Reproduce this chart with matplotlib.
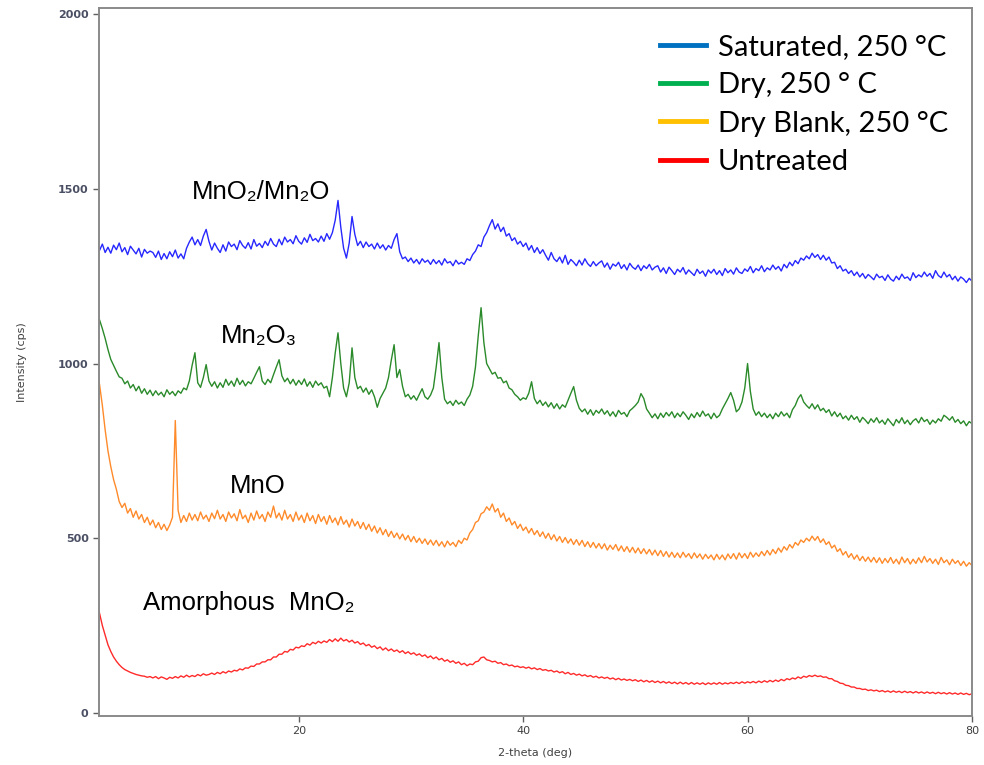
import numpy as np
import matplotlib
matplotlib.use("Agg")
import matplotlib.pyplot as plt
from matplotlib.lines import Line2D

# scans start at 2 deg 2-theta, 0.25 deg per point
start = 2.0
step = 0.25

saturated = [
    1338, 1324, 1342, 1318, 1333, 1316, 1339, 1326, 1345, 1320, 1332, 1312, 1336, 1325, 1314, 1330, 1305, 1327, 1316, 1322,
    1318, 1304, 1322, 1298, 1315, 1300, 1320, 1306, 1325, 1302, 1314, 1300, 1330, 1348, 1362, 1340, 1355, 1338, 1365, 1384,
    1350, 1325, 1345, 1330, 1318, 1340, 1322, 1348, 1335, 1342, 1326, 1352, 1338, 1330, 1346, 1328, 1355, 1336, 1344, 1332,
    1350, 1338, 1358, 1342, 1335, 1356, 1340, 1362, 1348, 1355, 1343, 1366, 1350, 1342, 1360, 1347, 1370, 1352, 1358, 1348,
    1365, 1350, 1372, 1356, 1375, 1410, 1467, 1390, 1330, 1302, 1345, 1421, 1370, 1338, 1350, 1332, 1348, 1335, 1342, 1328,
    1345, 1330, 1340, 1325, 1338, 1330, 1355, 1372, 1320, 1300, 1305, 1292, 1302, 1288, 1298, 1285, 1300, 1290, 1296, 1284,
    1298, 1286, 1295, 1282, 1300, 1288, 1292, 1280, 1296, 1285, 1290, 1284, 1300, 1295, 1312, 1322, 1340, 1335, 1362, 1375,
    1395, 1412, 1385, 1400, 1378, 1390, 1365, 1372, 1352, 1360, 1342, 1350, 1335, 1345, 1325, 1338, 1318, 1332, 1315, 1326,
    1310, 1296, 1318, 1300, 1292, 1305, 1288, 1310, 1284, 1298, 1290, 1280, 1296, 1282, 1300, 1286, 1278, 1292, 1280, 1288,
    1294, 1276, 1288, 1270, 1285, 1279, 1290, 1272, 1283, 1268, 1287, 1276, 1270, 1282, 1266, 1280, 1272, 1284, 1268, 1276,
    1280, 1262, 1274, 1258, 1276, 1266, 1255, 1270, 1262, 1275, 1256, 1268, 1260, 1252, 1270, 1258, 1265, 1250, 1268, 1259,
    1270, 1255, 1266, 1252, 1272, 1260, 1268, 1256, 1274, 1262, 1258, 1271, 1264, 1278, 1260, 1272, 1266, 1280, 1263, 1274,
    1268, 1282, 1270, 1278, 1265, 1284, 1274, 1290, 1280, 1295, 1286, 1302, 1296, 1308, 1300, 1316, 1304, 1312, 1298, 1310,
    1296, 1305, 1288, 1290, 1272, 1280, 1265, 1270, 1258, 1266, 1252, 1262, 1248, 1258, 1244, 1255, 1248, 1240, 1256, 1246,
    1250, 1238, 1254, 1242, 1236, 1250, 1240, 1256, 1244, 1248, 1238, 1260, 1246, 1254, 1248, 1262, 1250, 1258, 1244, 1266,
    1252, 1246, 1262, 1248, 1255, 1240, 1250, 1236, 1248, 1242, 1232, 1244, 1236,
]

dry = [
    1140, 1125, 1100, 1072, 1040, 1012, 995, 978, 962, 958, 942, 950, 930, 940, 922, 935, 915, 928, 912, 924,
    908, 922, 910, 918, 905, 925, 912, 920, 908, 922, 915, 930, 925, 950, 995, 1031, 945, 932, 960, 997,
    950, 935, 948, 930, 945, 932, 955, 938, 950, 935, 958, 940, 952, 936, 948, 942, 958, 975, 991, 950,
    940, 955, 945, 968, 990, 1011, 965, 948, 958, 942, 955, 938, 952, 940, 956, 935, 948, 932, 950, 938,
    945, 930, 935, 905, 960, 1030, 1088, 1000, 930, 905, 945, 1045, 960, 928, 935, 918, 930, 912, 925, 905,
    875, 900, 915, 930, 960, 1010, 1054, 960, 983, 935, 905, 912, 898, 908, 895, 912, 928, 905, 898, 910,
    930, 990, 1060, 960, 898, 885, 892, 880, 895, 884, 890, 880, 898, 910, 935, 990, 1080, 1160, 1060, 1000,
    985, 970, 975, 958, 960, 945, 950, 930, 925, 912, 905, 895, 902, 898, 915, 948, 900, 885, 895, 880,
    890, 876, 888, 872, 885, 870, 882, 875, 895, 915, 934, 895, 872, 862, 870, 855, 868, 852, 866, 858,
    870, 855, 865, 850, 862, 848, 866, 855, 860, 848, 865, 872, 880, 890, 914, 900, 870, 858, 845, 856,
    842, 858, 846, 860, 850, 862, 845, 858, 848, 862, 852, 840, 856, 845, 860, 848, 864, 850, 856, 842,
    858, 845, 852, 870, 885, 900, 917, 895, 862, 870, 890, 930, 1000, 920, 870, 852, 862, 848, 858, 845,
    855, 842, 858, 848, 862, 850, 858, 845, 868, 880, 900, 911, 890, 880, 872, 885, 870, 882, 865, 872,
    860, 868, 850, 862, 848, 858, 842, 850, 838, 852, 840, 848, 832, 846, 838, 828, 842, 832, 845, 830,
    838, 826, 842, 832, 822, 840, 830, 845, 828, 838, 825, 836, 842, 830, 846, 834, 840, 826, 838, 830,
    842, 835, 852, 846, 838, 848, 832, 840, 828, 836, 822, 834, 828,
]

dry_blank = [
    980, 940, 880, 810, 750, 705, 668, 640, 605, 588, 600, 572, 585, 560, 578, 555, 568, 545, 560, 538,
    552, 530, 545, 525, 540, 522, 538, 560, 837, 580, 545, 565, 548, 572, 552, 568, 550, 575, 555, 566,
    548, 572, 556, 580, 555, 568, 548, 575, 558, 570, 550, 582, 556, 566, 545, 572, 552, 578, 556, 568,
    548, 575, 560, 592, 558, 572, 552, 580, 555, 568, 548, 575, 552, 566, 545, 572, 550, 565, 542, 568,
    548, 562, 540, 565, 545, 558, 538, 562, 540, 552, 532, 555, 535, 548, 528, 545, 525, 540, 520, 535,
    515, 530, 510, 525, 505, 520, 502, 515, 498, 512, 495, 508, 490, 505, 488, 500, 485, 498, 482, 495,
    480, 494, 478, 490, 475, 492, 480, 488, 476, 494, 485, 500, 495, 515, 525, 545, 550, 570, 575, 590,
    580, 598, 575, 585, 560, 572, 548, 558, 538, 548, 528, 540, 522, 532, 515, 528, 510, 522, 505, 518,
    500, 514, 496, 510, 492, 505, 488, 502, 486, 498, 482, 496, 480, 494, 476, 490, 474, 488, 472, 485,
    470, 484, 466, 480, 468, 482, 464, 478, 462, 476, 460, 474, 458, 472, 456, 470, 455, 468, 452, 466,
    450, 465, 448, 462, 446, 460, 445, 458, 444, 460, 446, 456, 442, 458, 444, 455, 440, 454, 442, 452,
    438, 454, 440, 452, 438, 455, 442, 456, 440, 458, 444, 456, 442, 460, 446, 458, 448, 462, 450, 465,
    452, 468, 456, 472, 460, 476, 466, 482, 472, 488, 480, 495, 488, 500, 492, 506, 494, 505, 488, 498,
    482, 490, 472, 480, 462, 470, 452, 462, 445, 456, 440, 452, 436, 448, 434, 446, 432, 445, 430, 444,
    428, 442, 430, 445, 428, 440, 426, 446, 430, 442, 426, 440, 428, 444, 430, 448, 432, 442, 428, 440,
    425, 445, 430, 438, 424, 440, 428, 436, 422, 434, 420, 430, 422,
]

untreated = [
    310, 285, 250, 222, 195, 176, 160, 148, 138, 130, 124, 120, 116, 113, 110, 108, 106, 105, 102, 104,
    100, 104, 98, 103, 100, 96, 102, 99, 104, 100, 106, 102, 108, 103, 107, 104, 110, 106, 112, 108,
    110, 114, 110, 116, 112, 118, 114, 120, 117, 122, 120, 126, 123, 129, 128, 134, 133, 140, 140, 146,
    146, 152, 152, 160, 160, 168, 168, 176, 174, 182, 180, 188, 186, 192, 190, 198, 194, 202, 198, 205,
    200, 206, 202, 210, 204, 212, 205, 214, 206, 210, 203, 208, 200, 204, 196, 200, 192, 196, 188, 192,
    184, 189, 180, 186, 178, 183, 176, 180, 173, 178, 170, 175, 168, 172, 165, 169, 162, 166, 158, 163,
    155, 160, 152, 156, 148, 152, 145, 149, 142, 146, 138, 142, 135, 140, 138, 146, 148, 158, 160, 152,
    150, 146, 148, 142, 144, 138, 140, 135, 137, 132, 134, 130, 132, 128, 131, 126, 129, 124, 127, 122,
    124, 120, 122, 117, 120, 115, 118, 112, 116, 110, 113, 108, 111, 106, 109, 104, 107, 102, 105, 100,
    103, 99, 102, 97, 100, 95, 99, 94, 97, 93, 96, 92, 95, 90, 94, 89, 93, 88, 92, 87,
    91, 86, 90, 85, 89, 84, 88, 83, 88, 83, 87, 82, 87, 82, 86, 82, 86, 81, 86, 82,
    86, 82, 87, 82, 86, 83, 87, 84, 88, 84, 89, 85, 89, 86, 90, 86, 91, 87, 92, 88,
    93, 89, 94, 90, 96, 92, 98, 95, 100, 97, 103, 99, 105, 102, 107, 104, 108, 104, 106, 102,
    103, 98, 98, 92, 90, 85, 84, 79, 78, 74, 74, 70, 70, 67, 68, 64, 66, 63, 65, 61,
    64, 60, 63, 59, 63, 59, 62, 58, 62, 58, 61, 57, 61, 57, 60, 56, 60, 56, 59, 55,
    59, 55, 58, 54, 58, 54, 57, 53, 57, 53, 56, 52, 55,
]

line_colors = ["#2727ff", "#2a8a2a", "#ff8a2a", "#ff2a2a"]
legend_labels = ["Saturated, 250 \u00b0C", "Dry, 250 \u00b0 C",
                 "Dry Blank, 250 \u00b0C", "Untreated"]
legend_colors = ["#0070c0", "#00b050", "#ffc000", "#ff0000"]

fig = plt.figure(figsize=(9.84, 7.65), dpi=100)
ax = fig.add_axes([0.1006, 0.064, 0.8872, 0.9256])

for vals, col in zip([saturated, dry, dry_blank, untreated], line_colors):
    x = start + step * np.arange(len(vals))
    ax.plot(x, vals, color=col, lw=1.0)

ax.set_xlim(2.2, 80)
ax.set_ylim(-9, 2018)
ax.set_xticks([20, 40, 60, 80])
ax.set_yticks([0, 500, 1000, 1500, 2000])
for s in ax.spines.values():
    s.set_color("#8a8a8a")
    s.set_linewidth(1.4)
ax.tick_params(direction="out", length=4, width=1, color="#606060",
               labelsize=8, labelcolor="#404040")
for lab in ax.get_yticklabels():
    lab.set_color("#4a4f63")
    lab.set_fontweight("bold")
ax.set_xlabel("2-theta (deg)", fontsize=8, color="#404040", labelpad=8)
ax.set_ylabel("Intensity (cps)", fontsize=8, color="#404040", labelpad=22)

afont = dict(fontsize=18.5, family=["Liberation Sans", "DejaVu Sans"],
             color="black", va="baseline", ha="left")
ax.text(10.5, 1470, "MnO\u2082/Mn\u2082O", **afont)
ax.text(13.05, 1060, "Mn\u2082O\u2083", **afont)
ax.text(13.9, 630, "MnO", **afont)
ax.text(6.1, 295, "Amorphous  MnO\u2082", **afont)

handles = [Line2D([], [], color=c, lw=3.5) for c in legend_colors]
ax.legend(handles, legend_labels, loc="upper right",
          bbox_to_anchor=(1.003, 1.0), frameon=False,
          prop=dict(family=["Lato", "DejaVu Sans"], size=21),
          handlelength=1.6, handletextpad=0.4, labelspacing=0.42,
          borderpad=0.4)

fig.savefig("out.png", dpi=100)
